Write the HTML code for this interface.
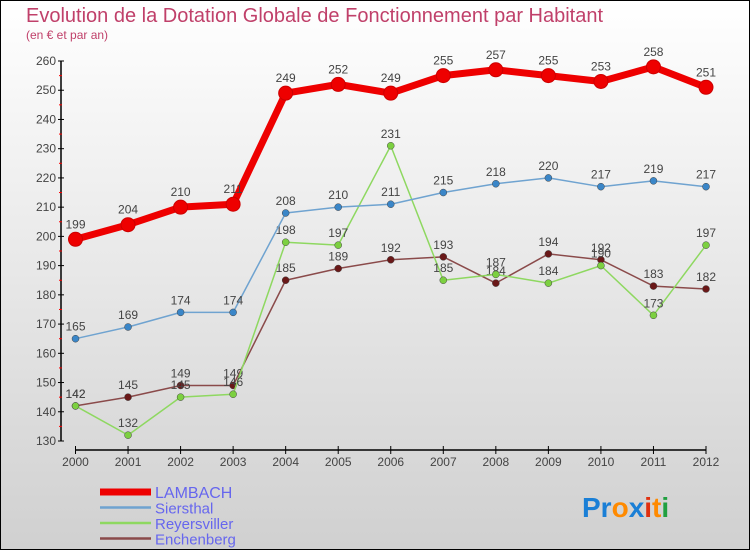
<!DOCTYPE html>
<html><head><meta charset="utf-8"><style>
body{margin:0;width:750px;height:550px;overflow:hidden;font-family:"Liberation Sans",sans-serif}
svg{display:block}
</style></head><body>
<svg id="chart" width="750" height="550">
<defs><linearGradient id="bg" x1="0" y1="0" x2="0" y2="1"><stop offset="0" stop-color="#ffffff"/><stop offset="1" stop-color="#d0d0d0"/></linearGradient></defs>
<rect x="0.5" y="0.5" width="749" height="549" fill="url(#bg)" stroke="#000"/>
<text x="26" y="22" font-size="20" fill="#c0406a">Evolution de la Dotation Globale de Fonctionnement par Habitant</text>
<text x="26" y="39" font-size="12" fill="#c0406a">(en € et par an)</text>
<g id="axes"></g><g id="series"></g><g id="legend"></g>
<text x="582" y="517" font-size="28" font-weight="bold"><tspan fill="#1a7fd6">Pr</tspan><tspan fill="#ff8a00">o</tspan><tspan fill="#1a7fd6">x</tspan><tspan fill="#e03010">i</tspan><tspan fill="#ff8a00">t</tspan><tspan fill="#20a040">i</tspan></text>
</svg>
<script>
const years=[2000,2001,2002,2003,2004,2005,2006,2007,2008,2009,2010,2011,2012];
const yTicks=[130,140,150,160,170,180,190,200,210,220,230,240,250,260];
const names=["LAMBACH","Siersthal","Reyersviller","Enchenberg"];
const lambach=[199,204,210,211,249,252,249,255,257,255,253,258,251];
const siersthal=[165,169,174,174,208,210,211,215,218,220,217,219,217];
const reyersviller=[142,132,145,146,198,197,231,185,187,184,190,173,197];
const enchenberg=[142,145,149,149,185,189,192,193,184,194,192,183,182];
const NS="http://www.w3.org/2000/svg";
function mk(tag,attrs,parent){const e=document.createElementNS(NS,tag);for(const k in attrs)e.setAttribute(k,attrs[k]);parent.appendChild(e);return e;}
const X=i=>75.5+i*(706-75.5)/(years.length-1);
const Y=v=>441-(v-130)*(380/130);
const ax=document.getElementById('axes');
let l=mk('line',{x1:61,y1:Y(260),x2:61,y2:Y(130),stroke:'#000','stroke-width':1.5},ax);

yTicks.forEach(v=>{
  mk('line',{x1:58,x2:64,y1:Y(v),y2:Y(v),stroke:'#000'},ax);
  if(v<260)mk('line',{x1:59,x2:62,y1:Y(v+5),y2:Y(v+5),stroke:'#f00'},ax);
  const t=mk('text',{x:56,y:Y(v)+4,'text-anchor':'end','font-size':12,fill:'#444'},ax);t.textContent=v;
  
});
l=mk('line',{x1:X(0),y1:450,x2:X(12),y2:450,stroke:'#000','stroke-width':1.5},ax);

years.forEach((y,i)=>{
  mk('line',{x1:X(i),x2:X(i),y1:446,y2:454,stroke:'#000'},ax);
  const t=mk('text',{x:X(i),y:466,'text-anchor':'middle','font-size':12,fill:'#444'},ax);t.textContent=y;
  
});
const data=[lambach,siersthal,reyersviller,enchenberg];
const cols=['#ee0000','#6fa3d0','#8ed860','#8a4a4a'];
const dots=['#ee0000','#3a86c8','#7cd040','#6a1818'];
const widths=[7,1.5,1.5,1.5];
const rads=[7,3.5,3.5,3.5];
const sg=document.getElementById('series');
[3,2,1,0].forEach(s=>{
  const g=mk('g',{},sg);
  
  
  const d=data[s].map((v,i)=>(i?'L':'M')+X(i)+','+Y(v)).join('');
  mk('path',{d:d,fill:'none',stroke:cols[s],'stroke-width':widths[s],'stroke-linejoin':'round'},g);
  data[s].forEach((v,i)=>{
    const c=mk('circle',{cx:X(i),cy:Y(v),r:rads[s],fill:dots[s],stroke:s==0?'#cc0000':'#444','stroke-width':s==0?1:0.5},g);
    
    
    const t=mk('text',{x:X(i),y:Y(v)-(s==0?11:8),'text-anchor':'middle','font-size':12,fill:'#444'},g);t.textContent=v;
    
  });
});
const lg=document.getElementById('legend');
names.forEach((n,i)=>{
  const y=492+i*15.5;
  const g=mk('g',{},lg);
  
  
  mk('line',{x1:100,x2:151,y1:y,y2:y,stroke:cols[i],'stroke-width':i==0?7:2.5},g);
  const t=mk('text',{x:155,y:y+6,'font-size':i==0?16:15,fill:'#6666ee'},g);t.textContent=n;
});
</script>
</body></html>
